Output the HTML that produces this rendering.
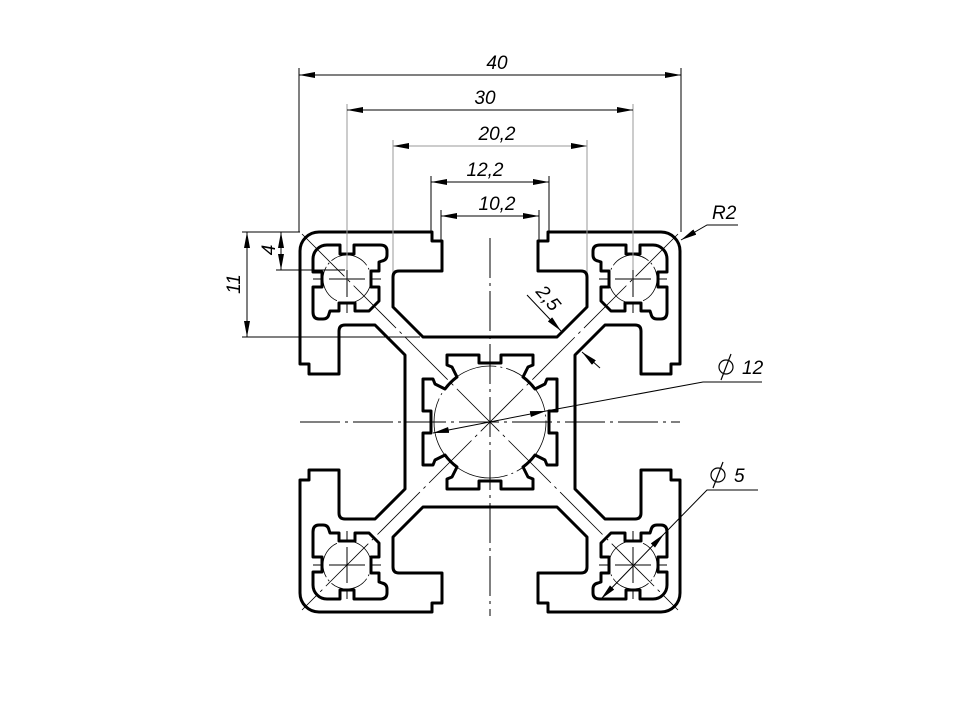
<!DOCTYPE html>
<html><head><meta charset="utf-8"><style>
html,body{margin:0;padding:0;background:#fff;}
svg{display:block;}
text{font-family:"Liberation Sans",sans-serif;font-style:italic;font-size:19px;fill:#000;}
</style></head><body>
<svg width="955" height="716" viewBox="0 0 955 716" xmlns="http://www.w3.org/2000/svg">
<defs>
<marker id="a" viewBox="0 0 16 6" refX="16" refY="3" markerWidth="16" markerHeight="6" markerUnits="userSpaceOnUse" orient="auto-start-reverse">
<path d="M0,0 L16,3 L0,6 Z" fill="#000"/></marker>
<g id="q">
<path d="M0,-85 L-67,-85 L-97,-115 L-97,-145 Q-97,-151 -91,-151 L-48,-151 L-48,-181 L-58,-181 L-58,-190 L-171,-190 A19,19 0 0 0 -190,-171 L-190,-58 L-181,-58 L-181,-48 L-151,-48 L-151,-91 Q-151,-97 -145,-97 L-115,-97 L-85,-67 L-85,0" fill="none" stroke="#000" stroke-width="3" stroke-linejoin="round"/>
<path transform="translate(-143,-143)" d="M-34,-20 A14,14 0 0 1 -20,-34 L-7,-34 L-7,-25 L7,-25 L7,-34 L33,-34 Q40,-34 40,-28 L40,-24 Q40,-19 35,-18 L32,-17 L32,-8 L24,-8 L24,8 L32,8 L32,22 L22,32 L8,32 L8,24 L-8,24 L-8,32 L-17,32 L-18,35 Q-19,40 -24,40 L-28,40 Q-34,40 -34,33 L-34,8 L-25,8 L-25,-7 L-34,-7 Z" fill="none" stroke="#000" stroke-width="3" stroke-linejoin="round"/>
<path d="M0,-59 L-11,-59 L-11,-67 L-43,-67 L-43,-57 L-38,-55 L-33,-45 A56,56 0 0 0 -45,-33 L-55,-38 L-57,-43 L-67,-43 L-67,-11 L-59,-11 L-59,0" fill="none" stroke="#000" stroke-width="3" stroke-linejoin="round"/>
<circle cx="-143" cy="-143" r="24" fill="none" stroke="#000" stroke-width="0.8" stroke-dasharray="40 3 2 3"/>
<path d="M-161,-143 H-125 M-143,-161 V-125 M-177,-143 H-167 M-119,-143 H-109 M-143,-177 V-167 M-143,-119 V-109" stroke="#000" stroke-width="1"/>
</g>
</defs>
<g transform="translate(490,422)">
<use href="#q"/>
<use href="#q" transform="scale(-1,1)"/>
<use href="#q" transform="scale(1,-1)"/>
<use href="#q" transform="scale(-1,-1)"/>
<circle r="56" fill="none" stroke="#000" stroke-width="0.8" stroke-dasharray="60 4 2 4"/>
</g>
<!-- center lines -->
<g stroke="#000" stroke-width="1" fill="none">
<path d="M300,422 H680" stroke-dasharray="40 5 3 5"/>
<path d="M490,238 V616" stroke-dasharray="40 5 3 5"/>
<path d="M302,234 L678,610" stroke-width="0.8" stroke-dasharray="60 5 3 5"/>
<path d="M678,234 L302,610" stroke-width="0.8" stroke-dasharray="60 5 3 5"/>
</g>
<!-- dimensions -->
<g stroke="#000" stroke-width="1" fill="none">
<path d="M299,68 V232 M681,68 V232"/>
<path d="M299,75 H681" marker-start="url(#a)" marker-end="url(#a)"/>
<path d="M347,104 V270 M633,104 V270" stroke="#999"/>
<path d="M347,110 H633" marker-start="url(#a)" marker-end="url(#a)"/>
<path d="M393,140 V272 M587,140 V272" stroke="#999"/>
<path d="M393,146 H587" stroke="#999" marker-start="url(#a)" marker-end="url(#a)"/>
<path d="M431,176 V236 M549,176 V236"/>
<path d="M431,182 H549" marker-start="url(#a)" marker-end="url(#a)"/>
<path d="M441,210 V242 M539,210 V242"/>
<path d="M441,216 H539" marker-start="url(#a)" marker-end="url(#a)"/>
<path d="M242,232 H300 M276,270 H345 M242,337 H420"/>
<path d="M247,232 V337" marker-start="url(#a)" marker-end="url(#a)"/>
<path d="M281,232 V270" marker-start="url(#a)" marker-end="url(#a)"/>
<path d="M681,240 L707,225 H738" marker-start="url(#a)"/>
<path d="M527,295 L561,331" marker-end="url(#a)"/>
<path d="M600,368 L582,352" marker-end="url(#a)"/>
<path d="M433,433 L546,411" marker-start="url(#a)" marker-end="url(#a)"/>
<path d="M546,411 L703,382 H762"/>
<path d="M601,599 L664,534" marker-start="url(#a)" marker-end="url(#a)"/>
<path d="M664,534 L707,490 H758"/>
</g>
<text x="497" y="69" text-anchor="middle">40</text>
<text x="485" y="104" text-anchor="middle">30</text>
<text x="497" y="140" text-anchor="middle">20,2</text>
<text x="485" y="176" text-anchor="middle">12,2</text>
<text x="497" y="210" text-anchor="middle">10,2</text>
<text transform="translate(240,284) rotate(-90)" text-anchor="middle">11</text>
<text transform="translate(275,250) rotate(-90)" text-anchor="middle">4</text>
<text x="712" y="219">R2</text>
<text transform="translate(535,292) rotate(50)">2,5</text>
<text x="742" y="374">12</text>
<text x="734" y="482">5</text>
<g stroke="#000" stroke-width="1.2" fill="none">
<circle cx="726" cy="367" r="7"/><path d="M721,380 L731,354"/>
<circle cx="718" cy="475" r="7"/><path d="M713,488 L723,462"/>
</g>
</svg>
</body></html>
